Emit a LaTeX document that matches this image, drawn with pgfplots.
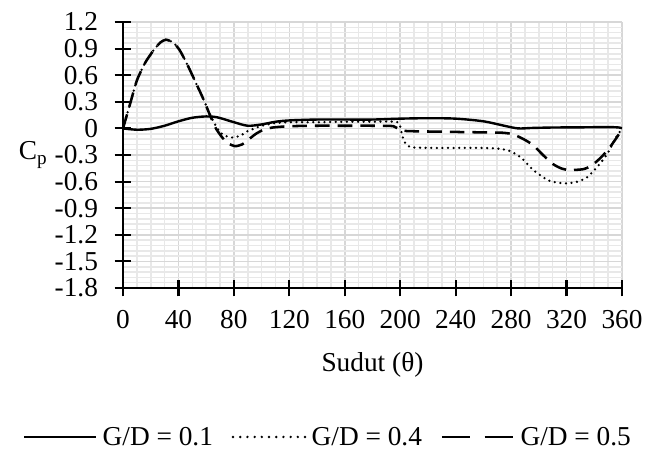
\documentclass[border=0pt]{standalone}
\usepackage{pgfplots}
\pgfplotsset{compat=1.18}
\usepackage{fontspec}
\setmainfont{Liberation Serif}
\definecolor{majgrid}{RGB}{215,215,215}
\definecolor{mingrid}{RGB}{232,232,232}
\begin{document}
\begin{tikzpicture}
\begin{axis}[
  set layers=standard,
  at={(0pt,0pt)}, anchor=south west,
  scale only axis, width=374.25pt, height=199.5pt,
  xmin=0, xmax=360, ymin=-1.8, ymax=1.2,
  xtick={0,40,...,360},
  ytick={-1.8,-1.5,-1.2,-0.9,-0.6,-0.3,0,0.3,0.6,0.9,1.2},
  yticklabels={-1.8,-1.5,-1.2,-0.9,-0.6,-0.3,0,0.3,0.6,0.9,1.2},
  xticklabels={0,40,80,120,160,200,240,280,320,360},
  minor x tick num=3, minor y tick num=4,
  grid=both,
  major grid style={majgrid, line width=1.1pt},
  minor grid style={mingrid, line width=1.2pt},
  axis x line*=bottom, axis y line*=left,
  axis line style={black, line width=1.8pt},
  xtick align=center, ytick align=center,
  major tick length=12.5pt, minor tick length=0pt,
  major tick style={black, line width=1.6pt},
  tick label style={font=\fontsize{20.5}{22}\selectfont},
  yticklabel style={xshift=-9pt},
  xticklabel style={yshift=-7pt},
  /pgf/number format/assume math mode=true,
  xlabel={Sudut (θ)},
  xlabel style={font=\fontsize{20.5}{22}\selectfont, at={(axis description cs:0.5,-0.29)}, anchor=center},
  ylabel={C\textsubscript{p}},
  ylabel style={font=\fontsize{20.5}{22}\selectfont, at={(axis description cs:-0.18,0.5)}, anchor=center, rotate=-90},
  legend columns=3,
  legend style={draw=none, fill=none, at={(axis description cs:0.41,-0.56)}, anchor=center,
    font=\fontsize{20.5}{22}\selectfont, nodes={inner xsep=1pt},
    /tikz/every odd column/.append style={column sep=3pt},
    /tikz/every even column/.append style={column sep=13pt}},
  legend image code/.code={\draw[#1] (0pt,0pt) -- (54pt,0pt);},
]
\addplot[black, line width=1.8pt, smooth, tension=0.5] coordinates {
(0,0) (10,-0.015) (20,-0.005) (30,0.03) (40,0.08) (50,0.12) (60,0.135) (68,0.125)
(80,0.07) (90,0.03) (100,0.045) (110,0.075) (120,0.09) (140,0.1) (160,0.1) (180,0.1)
(200,0.11) (220,0.115) (240,0.11) (260,0.08) (275,0.03) (285,0.0) (295,0.005)
(310,0.01) (330,0.012) (350,0.015) (358,0.01) (360,0.0)
};
\addlegendentry{G/D = 0.1}
\addplot[black, line width=1.9pt, line cap=round, dash pattern=on 0pt off 4.2pt, smooth, tension=0.4, legend image post style={dash pattern=on 0pt off 5.4pt, line width=2pt}] coordinates {
(0,0) (5,0.27) (10,0.54) (16,0.74) (22,0.88) (27,0.97) (31,1.0) (36,0.97) (41,0.88)
(47,0.7) (53,0.5) (58,0.33) (63,0.15) (68,0.0) (72,-0.07) (77,-0.1) (81,-0.1)
(86,-0.07) (90,-0.03) (95,0.0) (100,0.03) (110,0.06) (120,0.07) (140,0.07) (160,0.075)
(180,0.075) (198,0.07) (201,-0.05) (203,-0.15) (207,-0.21) (220,-0.22) (240,-0.22)
(260,-0.22) (272,-0.23) (280,-0.26) (288,-0.34) (296,-0.47) (306,-0.58) (313,-0.61)
(320,-0.62) (328,-0.6) (335,-0.55) (344,-0.4) (350,-0.27) (355,-0.12) (360,0)
};
\addlegendentry{G/D = 0.4}
\addplot[black, line width=1.9pt, dash pattern=on 11pt off 6pt, smooth, tension=0.4, legend image post style={dash pattern=on 21pt off 11pt on 21pt}] coordinates {
(0,0) (5,0.27) (10,0.54) (16,0.74) (22,0.88) (27,0.97) (31,1.0) (36,0.97) (41,0.88)
(47,0.7) (53,0.5) (58,0.33) (63,0.14) (67,0.0) (72,-0.11) (76,-0.17) (81,-0.2)
(86,-0.18) (91,-0.12) (96,-0.06) (102,-0.01) (108,0.01) (120,0.025) (140,0.03)
(160,0.03) (180,0.03) (195,0.025) (200,-0.02) (205,-0.03) (220,-0.035) (240,-0.04)
(260,-0.045) (275,-0.05) (282,-0.07) (290,-0.13) (296,-0.19) (303,-0.3) (310,-0.4)
(316,-0.45) (322,-0.47) (332,-0.46) (338,-0.42) (344,-0.34) (350,-0.24) (355,-0.13)
(358,-0.06) (360,0)
};
\addlegendentry{G/D = 0.5}
\end{axis}
\path (-92.25pt,-122.25pt) rectangle (400.5pt,216pt);
\end{tikzpicture}
\end{document}
